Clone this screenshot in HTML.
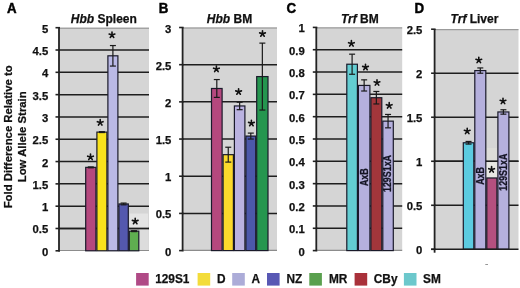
<!DOCTYPE html><html><head><meta charset="utf-8"><style>html,body{margin:0;padding:0;background:#fff;}svg{display:block;filter:blur(0.3px)}</style></head><body>
<svg width="520" height="288" viewBox="0 0 520 288" font-family='"Liberation Sans", sans-serif' font-weight="bold">
<rect width="520" height="288" fill="#fff"/>
<rect x="59" y="27.7" width="90.00" height="223.10" fill="#d5d5d5"/>
<line x1="59" y1="28.2" x2="149" y2="28.2" stroke="#8c8c8c" stroke-width="1"/>
<line x1="55.5" y1="250.80" x2="60" y2="250.80" stroke="#222" stroke-width="1.6"/>
<text x="48.2" y="255.80" font-size="11.3" text-anchor="end" fill="#111" stroke="#111" stroke-width="0.25">0</text>
<line x1="59" y1="228.49" x2="149" y2="228.49" stroke="#1e1e1e" stroke-width="1.5"/>
<line x1="55.5" y1="228.49" x2="60" y2="228.49" stroke="#222" stroke-width="1.6"/>
<text x="48.2" y="233.49" font-size="11.3" text-anchor="end" fill="#111" stroke="#111" stroke-width="0.25">0.5</text>
<line x1="59" y1="206.18" x2="149" y2="206.18" stroke="#1e1e1e" stroke-width="1.5"/>
<line x1="55.5" y1="206.18" x2="60" y2="206.18" stroke="#222" stroke-width="1.6"/>
<text x="48.2" y="211.18" font-size="11.3" text-anchor="end" fill="#111" stroke="#111" stroke-width="0.25">1</text>
<line x1="59" y1="183.87" x2="149" y2="183.87" stroke="#1e1e1e" stroke-width="1.5"/>
<line x1="55.5" y1="183.87" x2="60" y2="183.87" stroke="#222" stroke-width="1.6"/>
<text x="48.2" y="188.87" font-size="11.3" text-anchor="end" fill="#111" stroke="#111" stroke-width="0.25">1.5</text>
<line x1="59" y1="161.56" x2="149" y2="161.56" stroke="#1e1e1e" stroke-width="1.5"/>
<line x1="55.5" y1="161.56" x2="60" y2="161.56" stroke="#222" stroke-width="1.6"/>
<text x="48.2" y="166.56" font-size="11.3" text-anchor="end" fill="#111" stroke="#111" stroke-width="0.25">2</text>
<line x1="59" y1="139.25" x2="149" y2="139.25" stroke="#1e1e1e" stroke-width="1.5"/>
<line x1="55.5" y1="139.25" x2="60" y2="139.25" stroke="#222" stroke-width="1.6"/>
<text x="48.2" y="144.25" font-size="11.3" text-anchor="end" fill="#111" stroke="#111" stroke-width="0.25">2.5</text>
<line x1="59" y1="116.94" x2="149" y2="116.94" stroke="#1e1e1e" stroke-width="1.5"/>
<line x1="55.5" y1="116.94" x2="60" y2="116.94" stroke="#222" stroke-width="1.6"/>
<text x="48.2" y="121.94" font-size="11.3" text-anchor="end" fill="#111" stroke="#111" stroke-width="0.25">3</text>
<line x1="59" y1="94.63" x2="149" y2="94.63" stroke="#1e1e1e" stroke-width="1.5"/>
<line x1="55.5" y1="94.63" x2="60" y2="94.63" stroke="#222" stroke-width="1.6"/>
<text x="48.2" y="99.63" font-size="11.3" text-anchor="end" fill="#111" stroke="#111" stroke-width="0.25">3.5</text>
<line x1="59" y1="72.32" x2="149" y2="72.32" stroke="#1e1e1e" stroke-width="1.5"/>
<line x1="55.5" y1="72.32" x2="60" y2="72.32" stroke="#222" stroke-width="1.6"/>
<text x="48.2" y="77.32" font-size="11.3" text-anchor="end" fill="#111" stroke="#111" stroke-width="0.25">4</text>
<line x1="59" y1="50.01" x2="149" y2="50.01" stroke="#1e1e1e" stroke-width="1.5"/>
<line x1="55.5" y1="50.01" x2="60" y2="50.01" stroke="#222" stroke-width="1.6"/>
<text x="48.2" y="55.01" font-size="11.3" text-anchor="end" fill="#111" stroke="#111" stroke-width="0.25">4.5</text>
<line x1="55.5" y1="27.70" x2="60" y2="27.70" stroke="#222" stroke-width="1.6"/>
<text x="48.2" y="32.70" font-size="11.3" text-anchor="end" fill="#111" stroke="#111" stroke-width="0.25">5</text>
<line x1="59" y1="250.5" x2="149" y2="250.5" stroke="#8c8c8c" stroke-width="1.2"/>
<line x1="59" y1="27.7" x2="59" y2="251.4" stroke="#222" stroke-width="1.8"/>
<rect x="182.6" y="27.5" width="94.40" height="223.10" fill="#d5d5d5"/>
<line x1="182.6" y1="28.0" x2="277" y2="28.0" stroke="#8c8c8c" stroke-width="1"/>
<line x1="179.1" y1="250.60" x2="183.6" y2="250.60" stroke="#222" stroke-width="1.6"/>
<text x="171.4" y="255.60" font-size="11.3" text-anchor="end" fill="#111" stroke="#111" stroke-width="0.25">0</text>
<line x1="182.6" y1="213.42" x2="277" y2="213.42" stroke="#1e1e1e" stroke-width="1.5"/>
<line x1="179.1" y1="213.42" x2="183.6" y2="213.42" stroke="#222" stroke-width="1.6"/>
<text x="171.4" y="218.42" font-size="11.3" text-anchor="end" fill="#111" stroke="#111" stroke-width="0.25">0.5</text>
<line x1="182.6" y1="176.23" x2="277" y2="176.23" stroke="#1e1e1e" stroke-width="1.5"/>
<line x1="179.1" y1="176.23" x2="183.6" y2="176.23" stroke="#222" stroke-width="1.6"/>
<text x="171.4" y="181.23" font-size="11.3" text-anchor="end" fill="#111" stroke="#111" stroke-width="0.25">1</text>
<line x1="182.6" y1="139.05" x2="277" y2="139.05" stroke="#1e1e1e" stroke-width="1.5"/>
<line x1="179.1" y1="139.05" x2="183.6" y2="139.05" stroke="#222" stroke-width="1.6"/>
<text x="171.4" y="144.05" font-size="11.3" text-anchor="end" fill="#111" stroke="#111" stroke-width="0.25">1.5</text>
<line x1="182.6" y1="101.87" x2="277" y2="101.87" stroke="#1e1e1e" stroke-width="1.5"/>
<line x1="179.1" y1="101.87" x2="183.6" y2="101.87" stroke="#222" stroke-width="1.6"/>
<text x="171.4" y="106.87" font-size="11.3" text-anchor="end" fill="#111" stroke="#111" stroke-width="0.25">2</text>
<line x1="182.6" y1="64.68" x2="277" y2="64.68" stroke="#1e1e1e" stroke-width="1.5"/>
<line x1="179.1" y1="64.68" x2="183.6" y2="64.68" stroke="#222" stroke-width="1.6"/>
<text x="171.4" y="69.68" font-size="11.3" text-anchor="end" fill="#111" stroke="#111" stroke-width="0.25">2.5</text>
<line x1="179.1" y1="27.50" x2="183.6" y2="27.50" stroke="#222" stroke-width="1.6"/>
<text x="171.4" y="32.50" font-size="11.3" text-anchor="end" fill="#111" stroke="#111" stroke-width="0.25">3</text>
<line x1="182.6" y1="250.29999999999998" x2="277" y2="250.29999999999998" stroke="#8c8c8c" stroke-width="1.2"/>
<line x1="182.6" y1="27.5" x2="182.6" y2="251.2" stroke="#222" stroke-width="1.8"/>
<rect x="316.3" y="27.4" width="85.90" height="223.20" fill="#d5d5d5"/>
<line x1="316.3" y1="27.9" x2="402.2" y2="27.9" stroke="#8c8c8c" stroke-width="1"/>
<line x1="312.8" y1="250.60" x2="317.3" y2="250.60" stroke="#222" stroke-width="1.6"/>
<text x="304.8" y="255.60" font-size="11.3" text-anchor="end" fill="#111" stroke="#111" stroke-width="0.25">0</text>
<line x1="316.3" y1="228.28" x2="402.2" y2="228.28" stroke="#1e1e1e" stroke-width="1.5"/>
<line x1="312.8" y1="228.28" x2="317.3" y2="228.28" stroke="#222" stroke-width="1.6"/>
<text x="304.8" y="233.28" font-size="11.3" text-anchor="end" fill="#111" stroke="#111" stroke-width="0.25">0.1</text>
<line x1="316.3" y1="205.96" x2="402.2" y2="205.96" stroke="#1e1e1e" stroke-width="1.5"/>
<line x1="312.8" y1="205.96" x2="317.3" y2="205.96" stroke="#222" stroke-width="1.6"/>
<text x="304.8" y="210.96" font-size="11.3" text-anchor="end" fill="#111" stroke="#111" stroke-width="0.25">0.2</text>
<line x1="316.3" y1="183.64" x2="402.2" y2="183.64" stroke="#1e1e1e" stroke-width="1.5"/>
<line x1="312.8" y1="183.64" x2="317.3" y2="183.64" stroke="#222" stroke-width="1.6"/>
<text x="304.8" y="188.64" font-size="11.3" text-anchor="end" fill="#111" stroke="#111" stroke-width="0.25">0.3</text>
<line x1="316.3" y1="161.32" x2="402.2" y2="161.32" stroke="#1e1e1e" stroke-width="1.5"/>
<line x1="312.8" y1="161.32" x2="317.3" y2="161.32" stroke="#222" stroke-width="1.6"/>
<text x="304.8" y="166.32" font-size="11.3" text-anchor="end" fill="#111" stroke="#111" stroke-width="0.25">0.4</text>
<line x1="316.3" y1="139.00" x2="402.2" y2="139.00" stroke="#1e1e1e" stroke-width="1.5"/>
<line x1="312.8" y1="139.00" x2="317.3" y2="139.00" stroke="#222" stroke-width="1.6"/>
<text x="304.8" y="144.00" font-size="11.3" text-anchor="end" fill="#111" stroke="#111" stroke-width="0.25">0.5</text>
<line x1="316.3" y1="116.68" x2="402.2" y2="116.68" stroke="#1e1e1e" stroke-width="1.5"/>
<line x1="312.8" y1="116.68" x2="317.3" y2="116.68" stroke="#222" stroke-width="1.6"/>
<text x="304.8" y="121.68" font-size="11.3" text-anchor="end" fill="#111" stroke="#111" stroke-width="0.25">0.6</text>
<line x1="316.3" y1="94.36" x2="402.2" y2="94.36" stroke="#1e1e1e" stroke-width="1.5"/>
<line x1="312.8" y1="94.36" x2="317.3" y2="94.36" stroke="#222" stroke-width="1.6"/>
<text x="304.8" y="99.36" font-size="11.3" text-anchor="end" fill="#111" stroke="#111" stroke-width="0.25">0.7</text>
<line x1="316.3" y1="72.04" x2="402.2" y2="72.04" stroke="#1e1e1e" stroke-width="1.5"/>
<line x1="312.8" y1="72.04" x2="317.3" y2="72.04" stroke="#222" stroke-width="1.6"/>
<text x="304.8" y="77.04" font-size="11.3" text-anchor="end" fill="#111" stroke="#111" stroke-width="0.25">0.8</text>
<line x1="316.3" y1="49.72" x2="402.2" y2="49.72" stroke="#1e1e1e" stroke-width="1.5"/>
<line x1="312.8" y1="49.72" x2="317.3" y2="49.72" stroke="#222" stroke-width="1.6"/>
<text x="304.8" y="54.72" font-size="11.3" text-anchor="end" fill="#111" stroke="#111" stroke-width="0.25">0.9</text>
<line x1="312.8" y1="27.40" x2="317.3" y2="27.40" stroke="#222" stroke-width="1.6"/>
<text x="304.8" y="32.40" font-size="11.3" text-anchor="end" fill="#111" stroke="#111" stroke-width="0.25">1</text>
<line x1="316.3" y1="250.29999999999998" x2="402.2" y2="250.29999999999998" stroke="#8c8c8c" stroke-width="1.2"/>
<line x1="316.3" y1="27.4" x2="316.3" y2="251.2" stroke="#222" stroke-width="1.8"/>
<rect x="434.6" y="29.2" width="83.90" height="220.10" fill="#d5d5d5"/>
<line x1="434.6" y1="29.7" x2="518.5" y2="29.7" stroke="#8c8c8c" stroke-width="1"/>
<line x1="431.1" y1="249.30" x2="435.6" y2="249.30" stroke="#222" stroke-width="1.6"/>
<text x="422.4" y="254.30" font-size="11.3" text-anchor="end" fill="#111" stroke="#111" stroke-width="0.25">0</text>
<line x1="434.6" y1="205.28" x2="518.5" y2="205.28" stroke="#1e1e1e" stroke-width="1.5"/>
<line x1="431.1" y1="205.28" x2="435.6" y2="205.28" stroke="#222" stroke-width="1.6"/>
<text x="422.4" y="210.28" font-size="11.3" text-anchor="end" fill="#111" stroke="#111" stroke-width="0.25">0.5</text>
<line x1="434.6" y1="161.26" x2="518.5" y2="161.26" stroke="#1e1e1e" stroke-width="1.5"/>
<line x1="431.1" y1="161.26" x2="435.6" y2="161.26" stroke="#222" stroke-width="1.6"/>
<text x="422.4" y="166.26" font-size="11.3" text-anchor="end" fill="#111" stroke="#111" stroke-width="0.25">1</text>
<line x1="434.6" y1="117.24" x2="518.5" y2="117.24" stroke="#1e1e1e" stroke-width="1.5"/>
<line x1="431.1" y1="117.24" x2="435.6" y2="117.24" stroke="#222" stroke-width="1.6"/>
<text x="422.4" y="122.24" font-size="11.3" text-anchor="end" fill="#111" stroke="#111" stroke-width="0.25">1.5</text>
<line x1="434.6" y1="73.22" x2="518.5" y2="73.22" stroke="#1e1e1e" stroke-width="1.5"/>
<line x1="431.1" y1="73.22" x2="435.6" y2="73.22" stroke="#222" stroke-width="1.6"/>
<text x="422.4" y="78.22" font-size="11.3" text-anchor="end" fill="#111" stroke="#111" stroke-width="0.25">2</text>
<line x1="431.1" y1="29.20" x2="435.6" y2="29.20" stroke="#222" stroke-width="1.6"/>
<text x="422.4" y="34.20" font-size="11.3" text-anchor="end" fill="#111" stroke="#111" stroke-width="0.25">2.5</text>
<line x1="434.6" y1="29.2" x2="434.6" y2="252.70000000000002" stroke="#222" stroke-width="1.8"/>
<rect x="129.5" y="213.5" width="18.5" height="14" fill="#e4e4e4"/>
<rect x="139.3" y="229.5" width="9.2" height="20.5" fill="#dcdcdc"/>
<rect x="486.4" y="162.2" width="10.5" height="15" fill="#e8e8e4"/>
<rect x="486.4" y="148" width="10.5" height="12.6" fill="#dcdcd8"/>
<line x1="59" y1="228.49" x2="149" y2="228.49" stroke="#1e1e1e" stroke-width="1.5"/>
<line x1="434.6" y1="161.26" x2="518.5" y2="161.26" stroke="#1e1e1e" stroke-width="1.5"/>
<rect x="85.70" y="167.36" width="10.20" height="83.44" fill="#b5487e" stroke="#1a1a2a" stroke-width="1.2"/>
<g stroke="#1a1a1a" stroke-width="1.2"><line x1="90.80" y1="166.91" x2="90.80" y2="167.81"/><line x1="87.80" y1="166.91" x2="93.80" y2="166.91"/><line x1="87.80" y1="167.81" x2="93.80" y2="167.81"/></g>
<path d="M90.50 157.10L90.50 154.10M90.50 157.10L93.35 156.17M90.50 157.10L92.26 159.53M90.50 157.10L88.74 159.53M90.50 157.10L87.65 156.17" stroke="#111" stroke-width="1.6" stroke-linecap="round" fill="none"/>
<rect x="96.90" y="132.11" width="10.00" height="118.69" fill="#f9e21c" stroke="#1a1a2a" stroke-width="1.2"/>
<g stroke="#1a1a1a" stroke-width="1.2"><line x1="101.90" y1="131.66" x2="101.90" y2="132.56"/><line x1="98.90" y1="131.66" x2="104.90" y2="131.66"/><line x1="98.90" y1="132.56" x2="104.90" y2="132.56"/></g>
<path d="M100.20 122.60L100.20 119.60M100.20 122.60L103.05 121.67M100.20 122.60L101.96 125.03M100.20 122.60L98.44 125.03M100.20 122.60L97.35 121.67" stroke="#111" stroke-width="1.6" stroke-linecap="round" fill="none"/>
<rect x="107.90" y="55.81" width="10.00" height="194.99" fill="#bab9e6" stroke="#1a1a2a" stroke-width="1.2"/>
<g stroke="#1a1a1a" stroke-width="1.2"><line x1="112.90" y1="45.55" x2="112.90" y2="66.07"/><line x1="109.90" y1="45.55" x2="115.90" y2="45.55"/><line x1="109.90" y1="66.07" x2="115.90" y2="66.07"/></g>
<path d="M112.00 35.00L112.00 32.00M112.00 35.00L114.85 34.07M112.00 35.00L113.76 37.43M112.00 35.00L110.24 37.43M112.00 35.00L109.15 34.07" stroke="#111" stroke-width="1.6" stroke-linecap="round" fill="none"/>
<rect x="118.90" y="203.95" width="9.40" height="46.85" fill="#5458ae" stroke="#1a1a2a" stroke-width="1.2"/>
<g stroke="#1a1a1a" stroke-width="1.2"><line x1="123.60" y1="203.06" x2="123.60" y2="204.84"/><line x1="120.60" y1="203.06" x2="126.60" y2="203.06"/><line x1="120.60" y1="204.84" x2="126.60" y2="204.84"/></g>
<rect x="129.30" y="231.17" width="9.50" height="19.63" fill="#5fae50" stroke="#1a1a2a" stroke-width="1.2"/>
<g stroke="#1a1a1a" stroke-width="1.2"><line x1="134.05" y1="230.72" x2="134.05" y2="231.61"/><line x1="131.05" y1="230.72" x2="137.05" y2="230.72"/><line x1="131.05" y1="231.61" x2="137.05" y2="231.61"/></g>
<path d="M135.20 221.30L135.20 218.30M135.20 221.30L138.05 220.37M135.20 221.30L136.96 223.73M135.20 221.30L133.44 223.73M135.20 221.30L132.35 220.37" stroke="#111" stroke-width="1.6" stroke-linecap="round" fill="none"/>
<rect x="211.50" y="88.48" width="10.60" height="162.12" fill="#b5487e" stroke="#1a1a2a" stroke-width="1.2"/>
<g stroke="#1a1a1a" stroke-width="1.2"><line x1="216.80" y1="79.56" x2="216.80" y2="97.40"/><line x1="213.80" y1="79.56" x2="219.80" y2="79.56"/><line x1="213.80" y1="97.40" x2="219.80" y2="97.40"/></g>
<path d="M216.40 69.10L216.40 66.10M216.40 69.10L219.25 68.17M216.40 69.10L218.16 71.53M216.40 69.10L214.64 71.53M216.40 69.10L213.55 68.17" stroke="#111" stroke-width="1.6" stroke-linecap="round" fill="none"/>
<rect x="223.10" y="154.67" width="10.30" height="95.93" fill="#fbd92c" stroke="#1a1a2a" stroke-width="1.2"/>
<g stroke="#1a1a1a" stroke-width="1.2"><line x1="228.25" y1="147.23" x2="228.25" y2="162.10"/><line x1="225.25" y1="147.23" x2="231.25" y2="147.23"/><line x1="225.25" y1="162.10" x2="231.25" y2="162.10"/></g>
<rect x="234.40" y="105.96" width="10.50" height="144.64" fill="#bab2e0" stroke="#1a1a2a" stroke-width="1.2"/>
<g stroke="#1a1a1a" stroke-width="1.2"><line x1="239.65" y1="102.24" x2="239.65" y2="109.68"/><line x1="236.65" y1="102.24" x2="242.65" y2="102.24"/><line x1="236.65" y1="109.68" x2="242.65" y2="109.68"/></g>
<path d="M238.60 91.80L238.60 88.80M238.60 91.80L241.45 90.87M238.60 91.80L240.36 94.23M238.60 91.80L236.84 94.23M238.60 91.80L235.75 90.87" stroke="#111" stroke-width="1.6" stroke-linecap="round" fill="none"/>
<rect x="245.90" y="136.08" width="9.80" height="114.52" fill="#4c58aa" stroke="#1a1a2a" stroke-width="1.2"/>
<g stroke="#1a1a1a" stroke-width="1.2"><line x1="250.80" y1="133.10" x2="250.80" y2="139.05"/><line x1="247.80" y1="133.10" x2="253.80" y2="133.10"/><line x1="247.80" y1="139.05" x2="253.80" y2="139.05"/></g>
<path d="M251.40 123.30L251.40 120.30M251.40 123.30L254.25 122.37M251.40 123.30L253.16 125.73M251.40 123.30L249.64 125.73M251.40 123.30L248.55 122.37" stroke="#111" stroke-width="1.6" stroke-linecap="round" fill="none"/>
<rect x="256.70" y="76.58" width="11.30" height="174.02" fill="#25964f" stroke="#1a1a2a" stroke-width="1.2"/>
<g stroke="#1a1a1a" stroke-width="1.2"><line x1="262.35" y1="43.12" x2="262.35" y2="110.05"/><line x1="259.35" y1="43.12" x2="265.35" y2="43.12"/><line x1="259.35" y1="110.05" x2="265.35" y2="110.05"/></g>
<path d="M262.50 33.80L262.50 30.80M262.50 33.80L265.35 32.87M262.50 33.80L264.26 36.23M262.50 33.80L260.74 36.23M262.50 33.80L259.65 32.87" stroke="#111" stroke-width="1.6" stroke-linecap="round" fill="none"/>
<rect x="346.80" y="64.23" width="10.60" height="186.37" fill="#63cdd2" stroke="#1a1a2a" stroke-width="1.2"/>
<g stroke="#1a1a1a" stroke-width="1.2"><line x1="352.10" y1="54.18" x2="352.10" y2="74.27"/><line x1="349.10" y1="54.18" x2="355.10" y2="54.18"/><line x1="349.10" y1="74.27" x2="355.10" y2="74.27"/></g>
<path d="M351.40 43.60L351.40 40.60M351.40 43.60L354.25 42.67M351.40 43.60L353.16 46.03M351.40 43.60L349.64 46.03M351.40 43.60L348.55 42.67" stroke="#111" stroke-width="1.6" stroke-linecap="round" fill="none"/>
<rect x="358.40" y="85.43" width="11.50" height="165.17" fill="#b5b0dd" stroke="#1a1a2a" stroke-width="1.2"/>
<g stroke="#1a1a1a" stroke-width="1.2"><line x1="364.15" y1="79.85" x2="364.15" y2="91.01"/><line x1="361.15" y1="79.85" x2="367.15" y2="79.85"/><line x1="361.15" y1="91.01" x2="367.15" y2="91.01"/></g>
<path d="M365.50 67.30L365.50 64.30M365.50 67.30L368.35 66.37M365.50 67.30L367.26 69.73M365.50 67.30L363.74 69.73M365.50 67.30L362.65 66.37" stroke="#111" stroke-width="1.6" stroke-linecap="round" fill="none"/>
<text transform="translate(367.85,186.10) rotate(-90)" font-size="10.4" textLength="17.8" lengthAdjust="spacingAndGlyphs" fill="#151525" stroke="#151525" stroke-width="0.3">AxB</text>
<rect x="370.90" y="97.71" width="10.90" height="152.89" fill="#a2363b" stroke="#1a1a2a" stroke-width="1.2"/>
<g stroke="#1a1a1a" stroke-width="1.2"><line x1="376.35" y1="91.46" x2="376.35" y2="103.96"/><line x1="373.35" y1="91.46" x2="379.35" y2="91.46"/><line x1="373.35" y1="103.96" x2="379.35" y2="103.96"/></g>
<path d="M377.00 82.70L377.00 79.70M377.00 82.70L379.85 81.77M377.00 82.70L378.76 85.13M377.00 82.70L375.24 85.13M377.00 82.70L374.15 81.77" stroke="#111" stroke-width="1.6" stroke-linecap="round" fill="none"/>
<rect x="382.80" y="121.14" width="10.50" height="129.46" fill="#b5b0dd" stroke="#1a1a2a" stroke-width="1.2"/>
<g stroke="#1a1a1a" stroke-width="1.2"><line x1="388.05" y1="114.45" x2="388.05" y2="127.84"/><line x1="385.05" y1="114.45" x2="391.05" y2="114.45"/><line x1="385.05" y1="127.84" x2="391.05" y2="127.84"/></g>
<path d="M389.20 105.60L389.20 102.60M389.20 105.60L392.05 104.67M389.20 105.60L390.96 108.03M389.20 105.60L387.44 108.03M389.20 105.60L386.35 104.67" stroke="#111" stroke-width="1.6" stroke-linecap="round" fill="none"/>
<text transform="translate(391.45,192.00) rotate(-90)" font-size="10.3" textLength="37.0" lengthAdjust="spacingAndGlyphs" fill="#151525" stroke="#151525" stroke-width="0.3">129S1xA</text>
<rect x="463.30" y="142.77" width="10.50" height="106.53" fill="#5ccbe0" stroke="#1a1a2a" stroke-width="1.2"/>
<g stroke="#1a1a1a" stroke-width="1.2"><line x1="468.55" y1="141.45" x2="468.55" y2="144.09"/><line x1="465.55" y1="141.45" x2="471.55" y2="141.45"/><line x1="465.55" y1="144.09" x2="471.55" y2="144.09"/></g>
<path d="M467.20 131.20L467.20 128.20M467.20 131.20L470.05 130.27M467.20 131.20L468.96 133.63M467.20 131.20L465.44 133.63M467.20 131.20L464.35 130.27" stroke="#111" stroke-width="1.6" stroke-linecap="round" fill="none"/>
<rect x="474.80" y="70.58" width="11.00" height="178.72" fill="#b5b0dd" stroke="#1a1a2a" stroke-width="1.2"/>
<g stroke="#1a1a1a" stroke-width="1.2"><line x1="480.30" y1="67.94" x2="480.30" y2="73.22"/><line x1="477.30" y1="67.94" x2="483.30" y2="67.94"/><line x1="477.30" y1="73.22" x2="483.30" y2="73.22"/></g>
<path d="M478.80 60.20L478.80 57.20M478.80 60.20L481.65 59.27M478.80 60.20L480.56 62.63M478.80 60.20L477.04 62.63M478.80 60.20L475.95 59.27" stroke="#111" stroke-width="1.6" stroke-linecap="round" fill="none"/>
<text transform="translate(484.00,184.80) rotate(-90)" font-size="10.4" textLength="17.8" lengthAdjust="spacingAndGlyphs" fill="#151525" stroke="#151525" stroke-width="0.3">AxB</text>
<rect x="486.80" y="177.99" width="10.10" height="71.31" fill="#b4507f" stroke="#1a1a2a" stroke-width="1.2"/>
<path d="M491.60 169.60L491.60 166.60M491.60 169.60L494.45 168.67M491.60 169.60L493.36 172.03M491.60 169.60L489.84 172.03M491.60 169.60L488.75 168.67" stroke="#111" stroke-width="1.6" stroke-linecap="round" fill="none"/>
<rect x="497.90" y="111.96" width="11.00" height="137.34" fill="#b5b0dd" stroke="#1a1a2a" stroke-width="1.2"/>
<g stroke="#1a1a1a" stroke-width="1.2"><line x1="503.40" y1="109.76" x2="503.40" y2="114.16"/><line x1="500.40" y1="109.76" x2="506.40" y2="109.76"/><line x1="500.40" y1="114.16" x2="506.40" y2="114.16"/></g>
<path d="M503.00 101.20L503.00 98.20M503.00 101.20L505.85 100.27M503.00 101.20L504.76 103.63M503.00 101.20L501.24 103.63M503.00 101.20L500.15 100.27" stroke="#111" stroke-width="1.6" stroke-linecap="round" fill="none"/>
<text transform="translate(506.80,190.70) rotate(-90)" font-size="10.3" textLength="37.0" lengthAdjust="spacingAndGlyphs" fill="#151525" stroke="#151525" stroke-width="0.3">129S1xA</text>
<line x1="431.1" y1="249.3" x2="518.5" y2="249.3" stroke="#1e1e1e" stroke-width="1.6"/>
<text x="70.8" y="22.7" font-size="12" fill="#111" stroke="#111" stroke-width="0.25"><tspan font-style="italic">Hbb</tspan> Spleen</text>
<text x="206.8" y="22.7" font-size="12" fill="#111" stroke="#111" stroke-width="0.25"><tspan font-style="italic">Hbb</tspan> BM</text>
<text x="341" y="22.7" font-size="12" fill="#111" stroke="#111" stroke-width="0.25"><tspan font-style="italic">Trf</tspan> BM</text>
<text x="450.6" y="22.7" font-size="12" fill="#111" stroke="#111" stroke-width="0.25"><tspan font-style="italic">Trf</tspan> Liver</text>
<text transform="translate(7,12.7) scale(0.95,1)" font-size="14.0" fill="#000" stroke="#000" stroke-width="0.45">A</text>
<text transform="translate(158.8,12.7) scale(0.95,1)" font-size="14.0" fill="#000" stroke="#000" stroke-width="0.45">B</text>
<text transform="translate(286.5,12.7) scale(0.95,1)" font-size="14.0" fill="#000" stroke="#000" stroke-width="0.45">C</text>
<text transform="translate(414.4,12.7) scale(0.95,1)" font-size="14.0" fill="#000" stroke="#000" stroke-width="0.45">D</text>
<text transform="translate(11.7,136.8) rotate(-90)" font-size="11.35" text-anchor="middle" fill="#111" stroke="#111" stroke-width="0.25">Fold Difference Relative to</text>
<text transform="translate(25.5,136.8) rotate(-90)" font-size="11.35" text-anchor="middle" fill="#111" stroke="#111" stroke-width="0.25">Low Allele Strain</text>
<rect x="136.1" y="273" width="12.6" height="12.6" fill="#b04a86"/>
<text x="155.2" y="283.3" font-size="11.85" fill="#111" stroke="#111" stroke-width="0.25">129S1</text>
<rect x="197.6" y="273" width="12.6" height="12.6" fill="#f3dc3a"/>
<text x="217" y="283.3" font-size="11.85" fill="#111" stroke="#111" stroke-width="0.25">D</text>
<rect x="232.2" y="273" width="12.6" height="12.6" fill="#acacd8"/>
<text x="251.6" y="283.3" font-size="11.85" fill="#111" stroke="#111" stroke-width="0.25">A</text>
<rect x="267" y="273" width="12.6" height="12.6" fill="#5858b4"/>
<text x="286.4" y="283.3" font-size="11.85" fill="#111" stroke="#111" stroke-width="0.25">NZ</text>
<rect x="309.3" y="273" width="12.6" height="12.6" fill="#5aa04e"/>
<text x="329" y="283.3" font-size="11.85" fill="#111" stroke="#111" stroke-width="0.25">MR</text>
<rect x="354.6" y="273" width="12.6" height="12.6" fill="#a9313a"/>
<text x="373.8" y="283.3" font-size="11.85" fill="#111" stroke="#111" stroke-width="0.25">CBy</text>
<rect x="403.9" y="273" width="12.6" height="12.6" fill="#6cc8cc"/>
<text x="423" y="283.3" font-size="11.85" fill="#111" stroke="#111" stroke-width="0.25">SM</text>
<line x1="485.3" y1="264.5" x2="488" y2="264.5" stroke="#8a8a8a" stroke-width="0.9"/>
</svg></body></html>
